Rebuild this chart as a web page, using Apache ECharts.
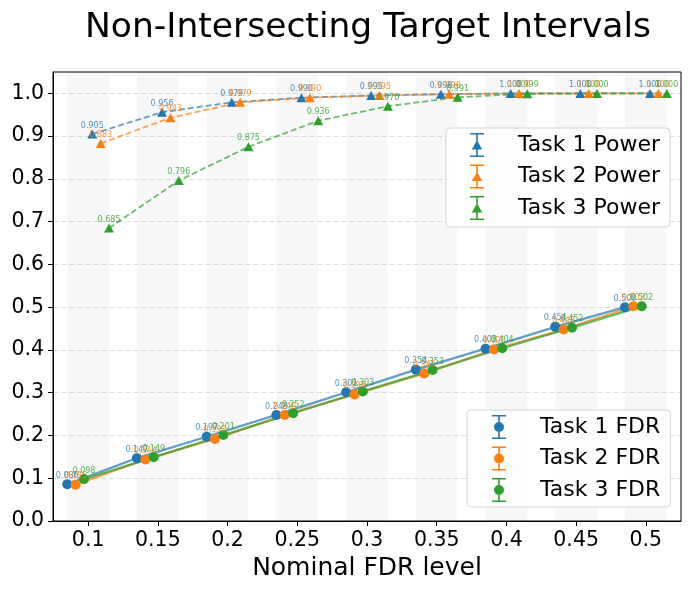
<!DOCTYPE html>
<html>
<head>
<meta charset="utf-8">
<script src="https://cdn.jsdelivr.net/npm/echarts@6/dist/echarts.min.js"></script>
<style>html,body{margin:0;padding:0;background:#fff}#c{width:690px;height:590px}</style>
</head>
<body>
<div id="c"></div>
<script>
// ---- data ----
const levels = [0.1, 0.15, 0.2, 0.25, 0.3, 0.35, 0.4, 0.45, 0.5];
const xTickLabels = ['0.1', '0.15', '0.2', '0.25', '0.3', '0.35', '0.4', '0.45', '0.5'];
const yTicks = [0, 0.1, 0.2, 0.3, 0.4, 0.5, 0.6, 0.7, 0.8, 0.9, 1.0];

const powerTask1 = [0.905, 0.956, 0.979, 0.990, 0.995, 0.998, 1.000, 1.000, 1.000];
const powerTask2 = [0.883, 0.943, 0.979, 0.990, 0.995, 0.998, 1.000, 1.000, 1.000];
const powerTask3 = [0.685, 0.796, 0.875, 0.936, 0.970, 0.991, 0.999, 1.000, 1.000];

const fdrTask1 = [0.086, 0.147, 0.197, 0.248, 0.301, 0.354, 0.403, 0.454, 0.500];
const fdrTask2 = [0.085, 0.144, 0.192, 0.248, 0.296, 0.345, 0.401, 0.448, 0.502];
const fdrTask3 = [0.098, 0.149, 0.201, 0.252, 0.303, 0.353, 0.404, 0.452, 0.502];

// ---- style / layout ----
const COLORS = ['#1f77b4', '#ff7f0e', '#2ca02c'];
const LABEL_COLORS = ['rgba(31,119,180,0.8)', 'rgba(255,127,14,0.8)', 'rgba(44,160,44,0.8)'];
const FDR_SHIFT = [-0.015, -0.009, -0.003];
const POWER_SHIFT = [0.003, 0.009, 0.015];
const BAND_HALF = 0.015;
const FONT = 'DejaVu Sans';

const ICON_POWER = 'path://M0 0H14V1.6H0Z M6.2 0H7.8V24H6.2Z M0 22.4H14V24H0Z M7 7.2L12.2 16.4L1.8 16.4Z';
const ICON_FDR = 'path://M0 0H14V1.6H0Z M6.2 0H7.8V24H6.2Z M0 22.4H14V24H0Z M2 12A5 5 0 1 1 12 12A5 5 0 1 1 2 12Z';

function mkSeries(name, vals, shift, idx, isPower) {
  return {
    name: name,
    type: 'line',
    data: levels.map((x, i) => [x + shift, vals[i]]),
    symbol: isPower ? 'triangle' : 'circle',
    symbolSize: isPower ? [10, 9] : 10,
    showAllSymbol: true,
    color: COLORS[idx],
    itemStyle: { color: COLORS[idx], borderWidth: 0 },
    lineStyle: {
      color: COLORS[idx],
      width: isPower ? 1.8 : 2.3,
      type: isPower ? [6, 3] : 'solid',
      opacity: 0.7
    },
    label: {
      show: true,
      position: 'inside',
      offset: [0, -8.5],
      fontSize: 8,
      fontFamily: FONT,
      color: LABEL_COLORS[idx],
      formatter: p => p.value[1].toFixed(3)
    },
    emphasis: { disabled: true },
    z: 3
  };
}

const series = [
  {
    name: 'bands',
    type: 'line',
    data: [],
    silent: true,
    z: 1,
    markArea: {
      silent: true,
      itemStyle: { color: 'rgba(0,0,0,0.03)' },
      data: levels.map(x => [{ xAxis: x - BAND_HALF }, { xAxis: x + BAND_HALF }])
    }
  },
  mkSeries('Task 1 Power', powerTask1, POWER_SHIFT[0], 0, true),
  mkSeries('Task 1 FDR', fdrTask1, FDR_SHIFT[0], 0, false),
  mkSeries('Task 2 Power', powerTask2, POWER_SHIFT[1], 1, true),
  mkSeries('Task 2 FDR', fdrTask2, FDR_SHIFT[1], 1, false),
  mkSeries('Task 3 Power', powerTask3, POWER_SHIFT[2], 2, true),
  mkSeries('Task 3 FDR', fdrTask3, FDR_SHIFT[2], 2, false)
];

const legendCommon = {
  orient: 'vertical',
  itemWidth: 14,
  itemHeight: 24,
  itemGap: 7.5,
  borderColor: '#d3d3d3',
  borderWidth: 1,
  borderRadius: 4,
  backgroundColor: 'rgba(255,255,255,0.85)',
  selectedMode: false,
  itemStyle: { borderWidth: 0 },
  textStyle: { fontSize: 22, fontFamily: FONT, color: '#000', padding: [0, 0, 0, 29] }
};

const option = {
  animation: false,
  backgroundColor: '#fff',
  title: {
    text: 'Non-Intersecting Target Intervals',
    left: 363,
    top: 6,
    textAlign: 'center',
    textStyle: { fontSize: 34.5, fontWeight: 'normal', fontFamily: FONT, color: '#000' }
  },
  legend: [
    Object.assign({}, legendCommon, {
      left: 446, top: 128, padding: [5, 10, 7, 24],
      data: ['Task 1 Power', 'Task 2 Power', 'Task 3 Power'].map(n => ({ name: n, icon: ICON_POWER }))
    }),
    Object.assign({}, legendCommon, {
      left: 467, top: 410, padding: [5, 10, 5, 25],
      data: ['Task 1 FDR', 'Task 2 FDR', 'Task 3 FDR'].map(n => ({ name: n, icon: ICON_FDR }))
    })
  ],
  grid: {
    left: 53, right: 9, top: 72, bottom: 69,
    show: true, borderColor: '#000', borderWidth: 1, backgroundColor: 'transparent',
    containLabel: false
  },
  xAxis: {
    type: 'value',
    min: 0.0748,
    max: 0.5252,
    name: 'Nominal FDR level',
    nameLocation: 'middle',
    nameGap: 34,
    nameTextStyle: { fontSize: 25, fontFamily: FONT, color: '#000' },
    axisLine: { show: true, onZero: false, lineStyle: { color: '#000', width: 1 } },
    axisTick: { show: true, length: 5, customValues: levels, lineStyle: { color: '#000' } },
    axisLabel: {
      customValues: levels,
      margin: 9,
      fontSize: 20.5,
      fontFamily: FONT,
      color: '#000',
      formatter: v => xTickLabels[levels.findIndex(l => Math.abs(l - v) < 1e-9)] ?? ''
    },
    splitLine: { show: false }
  },
  yAxis: {
    type: 'value',
    min: 0,
    max: 1.05,
    interval: 0.1,
    axisLine: { show: true, lineStyle: { color: '#000', width: 1 } },
    axisTick: { show: true, length: 5, customValues: yTicks, lineStyle: { color: '#000' } },
    axisLabel: {
      customValues: yTicks,
      margin: 9,
      fontSize: 20.5,
      fontFamily: FONT,
      color: '#000',
      formatter: v => v.toFixed(1)
    },
    splitLine: { show: true, lineStyle: { color: 'rgba(0,0,0,0.17)', type: [5, 3], width: 0.8 } }
  },
  series: series
};

const chart = echarts.init(document.getElementById('c'), null, { renderer: 'canvas' });
chart.setOption(option);
</script>
</body>
</html>
